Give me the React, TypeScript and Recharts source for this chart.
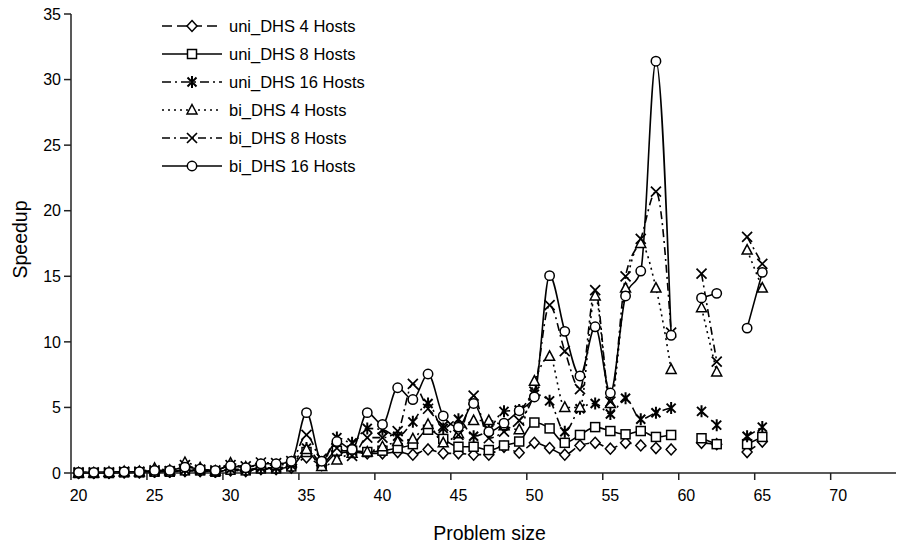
import { Label, Legend, Line, LineChart, XAxis, YAxis } from "recharts";

const problemSizes = [
  20, 21, 22, 23, 24, 25, 26, 27, 28, 29, 30, 31, 32, 33, 34, 35, 36, 37, 38, 39, 40, 41, 42,
  43, 44, 45, 46, 47, 48, 49, 50, 51, 52, 53, 54, 55, 56, 57, 58, 59, 60, 61, 62, 63, 64, 65,
];

const uniDhs4Hosts = [
  0, 0, 0, 0.05, 0.05, 0.1, 0.1, 0.15, 0.15, 0.1, 0.2, 0.15, 0.3, 0.3, 0.4,
  1.2, 0.6, 1.5, 1.6, 1.5, 1.5, 1.6, 1.4, 1.8, 1.5,
  1.5, 1.4, 1.4, 2.0, 1.55, 2.3, 1.9, 1.4, 2.1, 2.3,
  1.85, 2.3, 2.1, 1.9, 1.8, null, 2.3, 2.2, null, 1.6, 2.4,
];
const uniDhs8Hosts = [
  0, 0, 0, 0.05, 0.05, 0.1, 0.1, 0.2, 0.2, 0.1, 0.25, 0.2, 0.35, 0.35, 0.5,
  1.6, 0.7, 1.7, 1.7, 1.6, 1.7, 1.9, 2.2, 3.3, 2.6,
  2.0, 2.0, 1.75, 2.1, 2.4, 3.85, 3.4, 2.3, 2.9, 3.5,
  3.2, 2.95, 3.2, 2.75, 2.9, null, 2.65, 2.2, null, 2.2, 2.75,
];
const uniDhs16Hosts = [
  0, 0, 0, 0.05, 0.05, 0.1, 0.1, 0.25, 0.2, 0.1, 0.3, 0.25, 0.4, 0.4, 0.6,
  1.9, 0.8, 2.7, 2.3, 3.4, 3.3, 2.8, 3.9, 5.3, 3.4,
  4.1, 2.8, 3.3, 4.7, 4.8, 6.0, 5.5, 3.15, 4.9, 5.3,
  4.5, 5.7, 4.1, 4.6, 4.95, null, 4.7, 3.65, null, 2.8, 3.5,
];
const biDhs4Hosts = [
  0, 0, 0.05, 0.1, 0.1, 0.35, 0.2, 0.8, 0.4, 0.15, 0.75, 0.45, 0.6, 0.6, 0.8,
  1.8, 0.5, 1.0, 1.5, 1.6, 2.0, 2.4, 2.6, 3.7, 2.3,
  3.0, 4.0, 4.0, 3.6, 3.3, 7.0, 8.9, 5.0, 5.0, 13.5,
  5.3, 14.1, 17.5, 14.1, 7.9, null, 12.6, 7.7, null, 17.0, 14.1,
];
const biDhs8Hosts = [
  0.05, 0.05, 0.05, 0.1, 0.1, 0.2, 0.15, 0.6, 0.25, 0.2, 0.6, 0.5, 0.8, 0.75, 0.9,
  2.9, 1.1, 1.9, 1.3, 2.7, 2.7, 3.2, 6.8, 4.9, 3.6,
  2.9, 5.9, 2.65, 3.15, 4.0, 6.2, 12.8, 9.3, 6.4, 13.95,
  5.45, 15.0, 17.85, 21.45, 10.7, null, 15.2, 8.5, null, 18.0, 15.95,
];
const biDhs16Hosts = [
  0.05, 0.05, 0.05, 0.1, 0.1, 0.2, 0.2, 0.45, 0.3, 0.2, 0.55, 0.4, 0.7, 0.7, 0.9,
  4.6, 0.9, 2.4, 1.8, 4.6, 3.7, 6.5, 5.6, 7.55, 4.35,
  3.5, 5.3, 3.15, 3.8, 4.75, 5.8, 15.05, 10.8, 7.4, 11.15,
  6.1, 13.5, 15.4, 31.4, 10.5, null, 13.35, 13.7, null, 11.05, 15.3,
];

const xTicks = [20, 25, 30, 35, 40, 45, 50, 55, 60, 65, 70];
const yTicks = [0, 5, 10, 15, 20, 25, 30, 35];

type Shape = "diamond" | "square" | "star" | "triangle" | "cross" | "circle";

const series: { key: string; name: string; values: (number | null)[]; shape: Shape; dash?: string }[] = [
  { key: "uni4", name: "uni_DHS 4 Hosts", values: uniDhs4Hosts, shape: "diamond", dash: "10 5" },
  { key: "uni8", name: "uni_DHS 8 Hosts", values: uniDhs8Hosts, shape: "square" },
  { key: "uni16", name: "uni_DHS 16 Hosts", values: uniDhs16Hosts, shape: "star", dash: "9 4 2 4" },
  { key: "bi4", name: "bi_DHS 4 Hosts", values: biDhs4Hosts, shape: "triangle", dash: "2 4" },
  { key: "bi8", name: "bi_DHS 8 Hosts", values: biDhs8Hosts, shape: "cross", dash: "8 4 2 4" },
  { key: "bi16", name: "bi_DHS 16 Hosts", values: biDhs16Hosts, shape: "circle" },
];

const data = problemSizes.map((size, i) => {
  const row: Record<string, number | null> = { size };
  series.forEach((s) => {
    row[s.key] = s.values[i];
  });
  return row;
});

const FONT = "'Liberation Sans', Arial, Helvetica, sans-serif";
const INK = "#000";
const AXIS = "#222";
const CHART_W = 897;
const CHART_H = 547;
const MARGIN = { top: 14, right: 1, left: 0, bottom: 0 };
const Y_AXIS_W = 71;
const X_AXIS_H = 74;
const X_MIN = 19.5;
const X_MAX = 73.8;
const PLOT_W = CHART_W - MARGIN.left - MARGIN.right - Y_AXIS_W;
const HALF_STEP = PLOT_W / (X_MAX - X_MIN) / 2;
const AXIS_Y = CHART_H - MARGIN.bottom - X_AXIS_H;

function Marker({ shape, cx, cy }: { shape: Shape; cx: number; cy: number }) {
  const common = { fill: "#fff", stroke: INK, strokeWidth: 1.5 };
  switch (shape) {
    case "diamond":
      return (
        <polygon
          points={`${cx},${cy - 5.5} ${cx + 5},${cy} ${cx},${cy + 5.5} ${cx - 5},${cy}`}
          {...common}
        />
      );
    case "square":
      return <rect x={cx - 4.5} y={cy - 4.5} width={9} height={9} {...common} />;
    case "triangle":
      return (
        <polygon
          points={`${cx},${cy - 5.5} ${cx + 5},${cy + 4} ${cx - 5},${cy + 4}`}
          {...common}
        />
      );
    case "circle":
      return <circle cx={cx} cy={cy} r={4.7} {...common} />;
    case "cross":
      return (
        <path
          d={`M${cx - 5},${cy - 5}L${cx + 5},${cy + 5}M${cx + 5},${cy - 5}L${cx - 5},${cy + 5}`}
          stroke={INK}
          strokeWidth={1.7}
          fill="none"
        />
      );
    case "star":
      return (
        <path
          d={`M${cx - 4.5},${cy - 4.5}L${cx + 4.5},${cy + 4.5}M${cx + 4.5},${cy - 4.5}L${cx - 4.5},${cy + 4.5}M${cx},${cy - 6}L${cx},${cy + 6}`}
          stroke={INK}
          strokeWidth={2}
          fill="none"
        />
      );
  }
  return null;
}

function XTick({ x, payload }: { x: number; y: number; payload: { value: number } }) {
  const tickX = x - HALF_STEP;
  return (
    <g>
      <line x1={tickX} x2={tickX} y1={AXIS_Y} y2={AXIS_Y + 7} stroke={AXIS} strokeWidth={1.5} />
      <text x={x} y={AXIS_Y + 17} dy="0.71em" textAnchor="middle" fill={INK} fontSize={16} fontFamily={FONT}>
        {payload.value}
      </text>
    </g>
  );
}

function LegendBox() {
  return (
    <div style={{ fontFamily: FONT, fontSize: 16.5, color: INK }}>
      {series.map((s) => (
        <div key={s.key} style={{ display: "flex", alignItems: "center", height: 28 }}>
          <svg width={62} height={14} style={{ display: "block" }}>
            <line x1={1} y1={7} x2={61} y2={7} stroke={INK} strokeWidth={1.6} strokeDasharray={s.dash} />
            <Marker shape={s.shape} cx={31} cy={7} />
          </svg>
          <span style={{ marginLeft: 6, whiteSpace: "nowrap" }}>{s.name}</span>
        </div>
      ))}
    </div>
  );
}

export default function App() {
  return (
    <div style={{ position: "absolute", left: 0, top: 0, background: "#fff" }}>
      <LineChart width={CHART_W} height={CHART_H} data={data} margin={MARGIN}>
        <XAxis
          type="number"
          dataKey="size"
          domain={[X_MIN, X_MAX]}
          ticks={xTicks}
          allowDataOverflow
          height={X_AXIS_H}
          tickLine={false}
          axisLine={{ stroke: AXIS, strokeWidth: 1.5 }}
          tick={(props: any) => <XTick {...props} />}
        >
          <Label
            content={({ viewBox }: any) => (
              <text
                x={viewBox.x + viewBox.width / 2 + 6}
                y={540}
                textAnchor="middle"
                fill={INK}
                fontSize={19.5}
                fontFamily={FONT}
              >
                Problem size
              </text>
            )}
          />
        </XAxis>
        <YAxis
          domain={[0, 35]}
          ticks={yTicks}
          width={Y_AXIS_W}
          tickSize={7}
          tickMargin={3}
          axisLine={{ stroke: AXIS, strokeWidth: 1.5 }}
          tickLine={{ stroke: AXIS, strokeWidth: 1.5 }}
          tick={{ fill: INK, fontSize: 16, fontFamily: FONT }}
        >
          <Label
            content={({ viewBox }: any) => {
              const cx = viewBox.x + 20;
              const cy = viewBox.y + viewBox.height / 2 - 4;
              return (
                <text
                  x={cx}
                  y={cy}
                  transform={`rotate(-90 ${cx} ${cy})`}
                  textAnchor="middle"
                  dominantBaseline="central"
                  fill={INK}
                  fontSize={19.5}
                  fontFamily={FONT}
                >
                  Speedup
                </text>
              );
            }}
          />
        </YAxis>
        <Legend
          layout="vertical"
          align="center"
          verticalAlign="middle"
          content={() => <LegendBox />}
          wrapperStyle={{ left: 161, top: 12, width: 240, height: "auto", bottom: "auto", right: "auto" }}
        />
        {series.map((s) => (
          <Line
            key={s.key}
            dataKey={s.key}
            name={s.name}
            type="monotone"
            stroke={INK}
            strokeWidth={1.6}
            strokeDasharray={s.dash}
            connectNulls={false}
            isAnimationActive={false}
            activeDot={false}
            dot={(p: any) =>
              p.cy == null || p.value == null ? (
                <g key={`${s.key}-${p.index}`} />
              ) : (
                <g key={`${s.key}-${p.index}`}>
                  <Marker shape={s.shape} cx={p.cx} cy={p.cy} />
                </g>
              )
            }
          />
        ))}
      </LineChart>
    </div>
  );
}
